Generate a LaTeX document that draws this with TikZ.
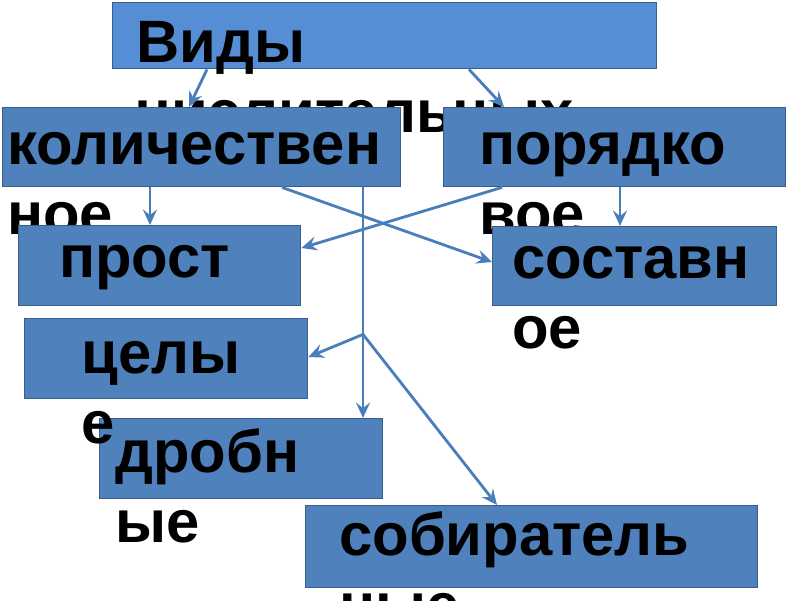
\documentclass[tikz,border=0pt]{standalone}
\usepackage{fontspec}
\setmainfont{Liberation Sans}
\usetikzlibrary{positioning,calc,arrows.meta}
\definecolor{boxblue}{HTML}{4F81BD}
\definecolor{topblue}{HTML}{558ED5}
\definecolor{boxline}{HTML}{385D8A}
\definecolor{arrowblue}{HTML}{4A7EBB}

\begin{document}
\begin{tikzpicture}[x=0.025cm, y=-0.025cm,
  numbox/.style={draw=boxline, fill=boxblue, line width=1pt, anchor=north west, inner sep=0pt},
  numtext/.style={anchor=base west, align=left, inner sep=0pt, font=\fontsize{42.5}{49.5}\selectfont\bfseries},
  link/.style={draw=arrowblue, line width=2pt, -{Stealth[length=11pt, width=10pt, inset=4pt]}}]
  \useasboundingbox (0,0) rectangle (800,600);

  % Top box (text placed by the baseline of its last line)
  \node[numbox, fill=topblue, minimum width=544*0.025cm, minimum height=66*0.025cm] (types) at (112,2) {};
  \node[numtext] (types-t) at (136,132) {Виды\\числительных};

  % Kinds
  \foreach \name/\x/\y/\w/\h/\tx/\ty/\txt in {
      kol/2/107/398/79/7/234/{количествен\\ное},
      por/443/107/342/79/479/234/{порядко\\вое},
      prost/18/225/282/80/59/277/{прост},
      sost/492/226/284/79/512/348/{составн\\ое},
      drob/99/418/283/80/115/542/{дробн\\ые},
      cel/24/318/283/80/81/443/{целы\\е},
      sob/305/505/452/82/339/625/{собиратель\\ные}}
  {
    \node[numbox, minimum width=\w*0.025cm, minimum height=\h*0.025cm] (\name) at (\x,\y) {};
    \node[numtext] (\name-t) at (\tx,\ty) {\txt};
  }

  % Fork on the vertical line
  \coordinate (fork) at ($(kol.south west)+(361,147)$);

  % Arrows
  \draw[link] ($(types.south west)+(95,0)$) -- ($(kol.north west)+(187,0)$);
  \draw[link] ($(types.south west)+(357,0)$) -- ($(por.north west)+(61,0)$);
  \draw[link] ($(kol.south west)+(148,0)$) -- ($(prost.north west)+(132,0)$);
  \draw[link] ($(por.south west)+(177,0)$) -- ($(sost.north west)+(128,0)$);
  \draw[link] ($(kol.south west)+(280,0)$) -- ($(sost.north west)+(0,36)$);
  \draw[link] ($(por.south west)+(59,0)$) -- ($(prost.north east)+(0,23)$);
  \draw[link] ($(kol.south west)+(361,0)$) -- ($(drob.north west)+(264,0)$);
  \draw[link] (fork) -- ($(cel.north east)+(0,39)$);
  \draw[link] (fork) -- ($(sob.north west)+(192,0)$);
\end{tikzpicture}
\end{document}
